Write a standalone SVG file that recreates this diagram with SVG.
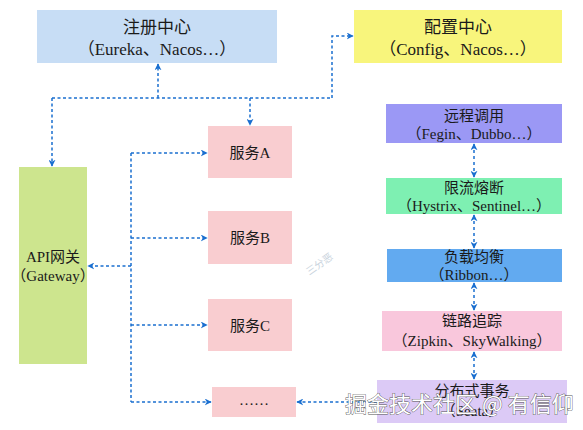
<svg xmlns="http://www.w3.org/2000/svg" width="583" height="430" viewBox="0 0 583 430">
<defs>
<marker id="ah" viewBox="0 0 10 10" refX="9" refY="5" markerWidth="7" markerHeight="7" orient="auto-start-reverse" markerUnits="userSpaceOnUse">
<path d="M0,0 L10,5 L0,10 L3,5 Z" fill="#1a6fd0"/>
</marker>
<style>
.t{font-family:"Liberation Serif","Noto Sans CJK SC",serif;fill:#1a1a1a;text-anchor:middle}
.big{font-size:17px}
.mid{font-size:15px}
.sm{font-size:15px}
.c{fill:none;stroke:#1a6fd0;stroke-width:1.5;stroke-dasharray:3 2.5}
.d{fill:none;stroke:#1a6fd0;stroke-width:1.5;stroke-dasharray:3 3}
</style>
</defs>
<rect width="583" height="430" fill="#ffffff"/>
<g id="registry">
<rect x="37" y="10" width="240" height="53" fill="#c7ddf5"/>
<text class="t big" x="157" y="33">注册中心</text>
<text class="t big" x="157" y="55">（Eureka、Nacos…）</text>
</g>
<g id="config">
<rect x="354" y="10" width="208" height="53" fill="#f8f57c"/>
<text class="t big" x="458" y="33">配置中心</text>
<text class="t big" x="458" y="55">（Config、Nacos…）</text>
</g>
<g id="gateway">
<rect x="19" y="167" width="68" height="197" fill="#cde58e"/>
<text class="t mid" x="53" y="262">API网关</text>
<text class="t mid" x="53" y="281">（Gateway）</text>
</g>
<g id="serviceA">
<rect x="208" y="126" width="84" height="52" fill="#f9cdd0"/>
<text class="t mid" x="250" y="158">服务A</text>
</g>
<g id="serviceB">
<rect x="208" y="211" width="84" height="53" fill="#f9cdd0"/>
<text class="t mid" x="250" y="243">服务B</text>
</g>
<g id="serviceC">
<rect x="208" y="299" width="84" height="52" fill="#f9cdd0"/>
<text class="t mid" x="250" y="331">服务C</text>
</g>
<g id="more">
<rect x="212" y="387" width="84" height="30" fill="#f9cdd0"/>
<text class="t mid" x="254" y="405">……</text>
</g>
<g id="rpc">
<rect x="386" y="104" width="176" height="39" fill="#9b98f5"/>
<text class="t sm" x="474" y="121">远程调用</text>
<text class="t sm" x="474" y="139">（Fegin、Dubbo…）</text>
</g>
<g id="circuit">
<rect x="386" y="178" width="176" height="36" fill="#7ef0b2"/>
<text class="t sm" x="474" y="193">限流熔断</text>
<text class="t sm" x="474" y="211">（Hystrix、Sentinel…）</text>
</g>
<g id="lb">
<rect x="387" y="249" width="175" height="33" fill="#62aaf0"/>
<text class="t sm" x="474" y="262">负载均衡</text>
<text class="t sm" x="474" y="280">（Ribbon…）</text>
</g>
<g id="trace">
<rect x="382" y="311" width="180" height="40" fill="#f9c7dc"/>
<text class="t sm" x="472" y="326">链路追踪</text>
<text class="t sm" x="472" y="346">（Zipkin、SkyWalking）</text>
</g>
<g id="tx">
<rect x="377" y="380" width="190" height="43" fill="#dccaf6"/>
<text class="t sm" x="472" y="396">分布式事务</text>
<text class="t sm" x="472" y="416">（Seata）</text>
</g>
<g id="connectors">
<path class="c" d="M52,98 H332"/>
<path class="c" d="M158,98 V64" marker-end="url(#ah)"/>
<path class="c" d="M52,98 V166" marker-end="url(#ah)"/>
<path class="c" d="M250,98 V125" marker-end="url(#ah)"/>
<path class="c" d="M332,98 V36 H353" marker-end="url(#ah)"/>
<path class="c" d="M131,153 V402"/>
<path class="c" d="M131,266 H88" marker-end="url(#ah)"/>
<path class="c" d="M131,153 H207" marker-end="url(#ah)"/>
<path class="c" d="M131,238 H207" marker-end="url(#ah)"/>
<path class="c" d="M131,325 H207" marker-end="url(#ah)"/>
<path class="c" d="M131,402 H211" marker-end="url(#ah)"/>
<path class="c" d="M377,402 H297" marker-end="url(#ah)"/>
<path class="d" d="M474,144 V177" marker-start="url(#ah)" marker-end="url(#ah)"/>
<path class="d" d="M474,215 V248" marker-start="url(#ah)" marker-end="url(#ah)"/>
<path class="d" d="M474,283 V310" marker-start="url(#ah)" marker-end="url(#ah)"/>
<path class="d" d="M474,352 V379" marker-start="url(#ah)" marker-end="url(#ah)"/>
</g>
<text x="318" y="268" transform="rotate(-35 318 262)" font-family="'Noto Sans CJK SC',sans-serif" font-size="10" fill="#c9d3dd" text-anchor="middle">三分恶</text>
<text x="345" y="412" font-family="'Noto Sans CJK SC',sans-serif" font-size="22" fill="#ffffff" stroke="#555" stroke-width="0.8" paint-order="stroke">掘金技术社区 @ 有信仰</text>
</svg>
